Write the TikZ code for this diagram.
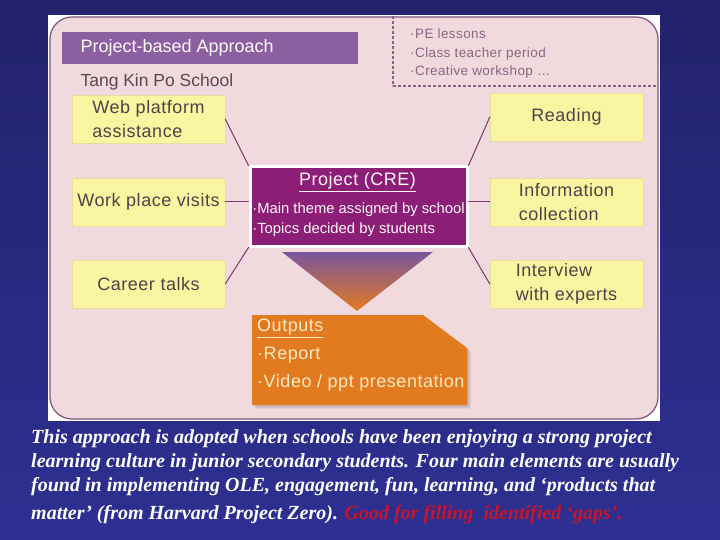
\documentclass[tikz,border=0pt]{standalone}
\usepackage{fontspec}
\setmainfont{Liberation Sans}
\newfontfamily\boxfont[LetterSpace=3]{Liberation Sans}
\newfontfamily\notefont{Liberation Serif}
\usetikzlibrary{positioning,calc}

\definecolor{bgtop}{RGB}{34,34,108}
\definecolor{bgbot}{RGB}{46,48,146}
\definecolor{panelpink}{RGB}{240,218,222}
\definecolor{panelrim}{RGB}{130,80,130}
\definecolor{headviolet}{RGB}{140,95,160}
\definecolor{boxyellow}{RGB}{250,245,160}
\definecolor{boxrim}{RGB}{228,222,160}
\definecolor{creviolet}{RGB}{140,30,120}
\definecolor{linkviolet}{RGB}{125,55,110}
\definecolor{dashviolet}{RGB}{140,100,130}
\definecolor{outorange}{RGB}{226,122,32}
\definecolor{outcream}{RGB}{252,234,196}
\definecolor{schoolgrey}{RGB}{90,72,80}
\definecolor{gapred}{RGB}{200,20,40}

\tikzset{
  elembox/.style={draw=boxrim, fill=boxyellow, minimum width=153pt,
    minimum height=48pt, inner sep=0pt, align=left,
    font=\boxfont\fontsize{18}{24}\selectfont, text=schoolgrey!90!black},
  link/.style={draw=linkviolet, line width=1pt}
}

\begin{document}
\begin{tikzpicture}[
  x=1pt,
  y=-1pt,
  line cap=round,
  line join=round
]
\useasboundingbox (0,0) rectangle (720,540);

% Backdrop and slide panel
\shade[top color=bgtop, bottom color=bgbot] (0,0) rectangle (720,540);
\fill[white] (48,15) rectangle (660,421);
\draw[panelrim, line width=1.2pt, fill=panelpink, rounded corners=22pt]
  (50,17) rectangle (658,419);

% Title bar and school name
\fill[headviolet] (62,32) rectangle (358,64);
\node[anchor=west, text=white!92!pink, font=\fontsize{18}{20}\selectfont]
  (title) at (77,48) {Project-based Approach};
\node[anchor=west, text=schoolgrey, font=\fontsize{17.5}{20}\selectfont]
  (school) at (77,82) {Tang Kin Po School};

% Dashed corner with timetable slots
\coordinate (dashtop) at (393,16);
\coordinate (dashknee) at (393,86);
\coordinate (dashend) at (658,86);
\draw[dashviolet, line width=1.4pt, dash pattern=on 3pt off 2pt, line cap=butt]
  (dashtop) -- (dashknee) -- (dashend);
\node[anchor=north west, align=left, inner sep=0pt, text=dashviolet,
  font=\boxfont\fontsize{13.5}{18.5}\selectfont] (slots) at (410,29)
  {·PE lessons\\·Class teacher period\\·Creative workshop …};

% Project core
\node[draw=white, line width=3pt, fill=creviolet, minimum width=217pt,
  minimum height=79pt, inner sep=0pt] (cre) at (358.5,206.5) {};
\node[text=white!88!pink, font=\boxfont\fontsize{18}{20}\selectfont]
  (cretitle) at (357.5,182) {\underline{Project (CRE)}};
\node[anchor=north, align=left, inner sep=0pt, text=white!85!pink,
  font=\fontsize{14.8}{20}\selectfont] (crelist) at (358.5,203)
  {·Main theme assigned by school\\·Topics decided by students};

% Six supporting elements
\node[elembox] (web) at (148.5,119) {Web platform\\assistance};
\node[elembox] (work) at (148.5,202) {Work place visits};
\node[elembox] (career) at (148.5,284) {Career talks};
\node[elembox] (reading) at (566.5,117) {Reading};
\node[elembox] (info) at (566.5,202) {Information\\collection};
\node[elembox] (interview) at (566.5,284) {Interview\\with experts};

\draw[link] (web.east) -- (cre.north west);
\draw[link] (work.east) -- (cre.west |- work.east);
\draw[link] (career.east) -- (cre.south west);
\draw[link] (reading.west) -- (cre.north east);
\draw[link] (info.west) -- (cre.east |- info.west);
\draw[link] (interview.west) -- (cre.south east);

% Funnel into outputs
\shade[top color=headviolet!80!bgbot, bottom color=outorange]
  (282,252) -- (433,252) -- (357,311) -- cycle;

% Outputs card with soft shadow
\foreach \d in {1,2,3,4}{
  \fill[black, opacity=0.05] ($(252,315)+(\d,\d)$) -- ($(423,315)+(\d,\d)$)
    -- ($(467,348)+(\d,\d)$) -- ($(467,405)+(\d,\d)$) -- ($(252,405)+(\d,\d)$) -- cycle;
}
\fill[outorange] (252,315) -- (423,315) -- (467,348)
  -- (467,405) -- (252,405) -- cycle;
\node[anchor=north west, align=left, inner sep=0pt, text=outcream,
  font=\boxfont\fontsize{18}{28}\selectfont] (outputs) at (257,319)
  {\underline{Outputs}\\·Report\\·Video / ppt presentation};

% Caption under the slide
\node[anchor=north west, align=left, inner sep=0pt, text=white,
  font=\notefont\bfseries\itshape\fontsize{20}{24}\selectfont]
  (caption) at (31,429)
  {This approach is adopted when schools have been enjoying a strong project\\
   learning culture in junior secondary students. Four main elements are usually\\
   found in implementing OLE, engagement, fun, learning, and ‘products that\\[4pt]
   matter’ (from Harvard Project Zero). \textcolor{gapred}{Good for filling\ \ identified ‘gaps’.}};

\end{tikzpicture}
\end{document}
